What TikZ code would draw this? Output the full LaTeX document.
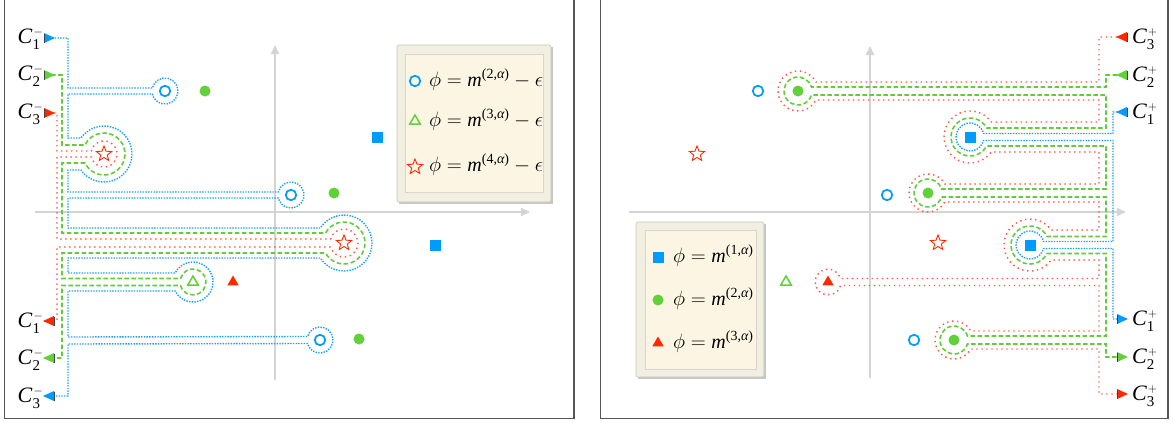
\documentclass[tikz,border=0pt]{standalone}
\usepackage{fontspec}
\newfontfamily\tms{Liberation Serif}
\usetikzlibrary{shapes.geometric,arrows.meta}
\definecolor{mblue}{RGB}{0,155,255}
\definecolor{mgreen}{RGB}{98,208,56}
\definecolor{mred}{RGB}{255,40,0}
\definecolor{cblue}{RGB}{25,160,255}
\definecolor{cgreen}{RGB}{100,204,60}
\definecolor{cred}{RGB}{255,85,60}
\definecolor{axgray}{RGB}{212,212,212}
\definecolor{framegray}{RGB}{85,85,85}
\definecolor{legouter}{RGB}{241,238,226}
\definecolor{leginner}{RGB}{253,245,228}
\definecolor{legborder}{RGB}{200,196,180}
\newcommand\tipR[3]{\fill[#3] ({#1-11},{#2-5}) -- (#1,#2) -- ({#1-11},{#2+5}) -- cycle;
  \draw[black!75, line width=0.9] ({#1-11},{#2-4.5}) -- ({#1-11},{#2+4.5});}
\newcommand\tipL[3]{\fill[#3] ({#1+11},{#2-5}) -- (#1,#2) -- ({#1+11},{#2+5}) -- cycle;
  \draw[black!75, line width=0.9] ({#1+11},{#2-4.5}) -- ({#1+11},{#2+4.5});}
\newcommand\Clab[2]{{\tms\itshape C}\kern0.3pt\rlap{\raisebox{-6.5pt}{\tms\fontsize{15}{15}\selectfont #1}}\kern1pt\raisebox{8pt}{\fontsize{13}{13}\selectfont$#2$}}
\newcommand\phiexp[1]{$\phi = \hbox{\tms\itshape m}^{\hbox{\tms\fontsize{14}{14}\selectfont(#1,{\itshape α})}}$}
\begin{document}
\begin{tikzpicture}[x=1pt,y=-1pt,
  every node/.style={inner sep=0pt, outer sep=0pt},
  lab/.style={font=\fontsize{22}{26}\selectfont},
  legtxt/.style={font=\fontsize{20}{24}\selectfont, anchor=base west},
  axisline/.style={draw=axgray, line width=1.8, -{Triangle[length=9pt,width=8pt]}},
  pathblue/.style={draw=cblue, line width=1.4, dash pattern=on 1.4pt off 1.3pt},
  pathgreen/.style={draw=cgreen, line width=1.6, dash pattern=on 4.5pt off 2.5pt},
  pathred/.style={draw=cred, line width=1.4, dash pattern=on 1.4pt off 3.6pt},
  kL/.style n args={4}{insert path={ -- ({#1-#3*cos(asin(#4/#3))},{#2-#4})
     arc[start angle={180+asin(#4/#3)}, end angle={540-asin(#4/#3)}, radius=#3] }},
  kR/.style n args={4}{insert path={ -- ({#1+#3*cos(asin(#4/#3))},{#2-#4})
     arc[start angle={-asin(#4/#3)}, end angle={-360+asin(#4/#3)}, radius=#3] }},
  mcirc/.style={circle, draw=mblue, line width=1.7, minimum size=10.5},
  mdot/.style={circle, fill=mgreen, minimum size=11},
  msq/.style={rectangle, fill=mblue, minimum size=11},
  mtri/.style={regular polygon, regular polygon sides=3, fill=mred, minimum size=13},
  motri/.style={regular polygon, regular polygon sides=3, draw=mgreen, line width=1.5, minimum size=12},
  mstar/.style={star, star points=5, star point ratio=2.3, draw=mred, line width=0.9, minimum size=16},
  frame/.style={draw=framegray, line width=1.1},
  legbox/.style={draw=legborder, fill=legouter, line width=0.6, rounded corners=2pt, anchor=north west},
  leginbox/.style={draw=legborder!70, fill=leginner, line width=0.5, anchor=north west},
]
\useasboundingbox (0,0) rectangle (1173,423);
\fill[white] (0,0) rectangle (1173,423);

% frames
\draw[frame] (4.5,-3) rectangle (574,418.5);
\draw[frame] (600.5,-3) rectangle (1168,418.5);

% axes
\draw[axisline] (35,212) -- (530,212);
\draw[axisline] (275,380) -- (275,45);
\draw[axisline] (629,212) -- (1126,212);
\draw[axisline] (870,378) -- (870,46);

% ---------------- left panel contours ----------------
\draw[pathblue] (44,38) -- (68,38) -- (68,88) [kL={165}{91}{13}{3}] -- (68,94)
  -- (68,138) [kL={104}{154}{28}{16}] -- (68,170)
  -- (68,192) [kL={291}{195}{13}{3}] -- (68,198)
  -- (68,228) [kL={344}{243}{28}{15}] -- (68,258)
  -- (68,273) [kL={193}{282}{20}{9}] -- (68,291)
  -- (68,337) [kL={320}{340}{13}{3.5}] -- (68,344)
  -- (68,396) -- (44,396);
\draw[pathgreen] (44,75) -- (62,75) -- (62,145) [kL={104}{154}{21}{9}] -- (62,163)
  -- (62,233) [kL={344}{243}{21}{10}] -- (62,253)
  -- (62,278.5) [kL={193}{282}{13}{3.5}] -- (62,285.5)
  -- (62,358) -- (44,358);
\draw[pathred] (44,113) -- (57,113) -- (57,151) [kL={104}{154}{13}{3}] -- (57,157)
  -- (57,239) [kL={344}{243}{14}{4}] -- (57,247)
  -- (57,321) -- (44,321);

% ---------------- right panel contours ----------------
\draw[pathred] (1117,37) -- (1099,37) -- (1099,82) [kR={798}{91}{20}{9}] -- (1099,100)
  -- (1099,122) [kR={970}{137}{26}{15}] -- (1099,152)
  -- (1099,184) [kR={928}{193}{19}{9}] -- (1099,202)
  -- (1099,230) [kR={1030}{245}{26}{15}] -- (1099,260)
  -- (1099,278.5) [kR={828}{282}{13}{3.5}] -- (1099,285.5)
  -- (1099,331) [kR={954}{340}{19}{9}] -- (1099,349)
  -- (1099,394) -- (1117,394);
\draw[pathgreen] (1117,75) -- (1106,75) -- (1106,87) [kR={798}{91}{14}{4}] -- (1106,95)
  -- (1106,128) [kR={970}{137}{19}{9}] -- (1106,146)
  -- (1106,189) [kR={928}{193}{14}{4}] -- (1106,197)
  -- (1106,236.5) [kR={1030}{245}{19}{8.5}] -- (1106,253.5)
  -- (1106,336) [kR={954}{340}{14}{4}] -- (1106,344)
  -- (1106,357) -- (1117,357);
\draw[pathblue] (1117,112) -- (1113,112) -- (1113,133.5) [kR={970}{137}{14}{3.5}] -- (1113,140.5)
  -- (1113,241.5) [kR={1030}{245}{14}{3.5}] -- (1113,248.5)
  -- (1113,319) -- (1117,319);

% arrow heads
\tipR{55}{38}{mblue}
\tipR{55}{75}{mgreen}
\tipR{55}{113}{mred}
\tipL{43}{321}{mred}
\tipL{43}{358}{mgreen}
\tipL{43}{396}{mblue}
\tipL{1116}{37}{mred}
\tipL{1116}{75}{mgreen}
\tipL{1116}{112}{mblue}
\tipR{1128}{319}{mblue}
\tipR{1128}{357}{mgreen}
\tipR{1128}{394}{mred}

% labels
\node[lab, anchor=base east] (cm1t) at (43,43) {\Clab{1}{-}};
\node[lab, anchor=base east] (cm2t) at (43,80) {\Clab{2}{-}};
\node[lab, anchor=base east] (cm3t) at (43,118) {\Clab{3}{-}};
\node[lab, anchor=base east] (cm1b) at (43,327) {\Clab{1}{-}};
\node[lab, anchor=base east] (cm2b) at (43,364) {\Clab{2}{-}};
\node[lab, anchor=base east] (cm3b) at (43,402) {\Clab{3}{-}};
\node[lab, anchor=base west] (cp3t) at (1132,43) {\Clab{3}{+}};
\node[lab, anchor=base west] (cp2t) at (1132,81) {\Clab{2}{+}};
\node[lab, anchor=base west] (cp1t) at (1132,118) {\Clab{1}{+}};
\node[lab, anchor=base west] (cp1b) at (1132,325) {\Clab{1}{+}};
\node[lab, anchor=base west] (cp2b) at (1132,363) {\Clab{2}{+}};
\node[lab, anchor=base west] (cp3b) at (1132,400) {\Clab{3}{+}};

% ---------------- left panel markers ----------------
\node[mcirc] (lc1) at (165,91) {};
\node[mdot] (ld1) at (205,91) {};
\node[msq] (lsq1) at (377,137) {};
\node[mstar] (lst1) at (104,154) {};
\node[mcirc] (lc2) at (291,195) {};
\node[mdot] (ld2) at (334,193) {};
\node[mstar] (lst2) at (344,243) {};
\node[msq] (lsq2) at (435,245) {};
\node[motri] (ltr1) at (193,282) {};
\node[mtri] (ltr2) at (233,282) {};
\node[mcirc] (lc3) at (320,340) {};
\node[mdot] (ld3) at (359,339) {};

% ---------------- right panel markers ----------------
\node[mcirc] (rc1) at (758,91) {};
\node[mdot] (rd1) at (798,91) {};
\node[mstar] (rst1) at (697,154) {};
\node[msq] (rsq1) at (970,137) {};
\node[mcirc] (rc2) at (887,195) {};
\node[mdot] (rd2) at (928,193) {};
\node[mstar] (rst2) at (938,243) {};
\node[msq] (rsq2) at (1030,245) {};
\node[motri] (rtr1) at (786,282) {};
\node[mtri] (rtr2) at (828,282) {};
\node[mcirc] (rc3) at (914,340) {};
\node[mdot] (rd3) at (954,340) {};

% ---------------- legends ----------------
\fill[black, opacity=0.22] (399,47) rectangle (553,204);
\node[legbox, minimum width=154, minimum height=157] (legL) at (397,45) {};
\node[leginbox, minimum width=138, minimum height=138] (legLin) at (405,54) {};
\node[mcirc] (lgc) at (415,81) {};
\node[legtxt] (lgct) at (429,86) {\phiexp{2}${}- \epsilon$};
\node[motri] (lgt) at (415,121) {};
\node[legtxt] (lgtt) at (429,126) {\phiexp{3}${}- \epsilon$};
\node[mstar] (lgs) at (415,167) {};
\node[legtxt] (lgst) at (429,171) {\phiexp{4}${}- \epsilon$};

\fill[black, opacity=0.22] (638,224) rectangle (766,379);
\node[legbox, minimum width=128, minimum height=155] (legR) at (636,222) {};
\node[leginbox, minimum width=111, minimum height=139] (legRin) at (645,230) {};
\node[msq] (rgs) at (658,257) {};
\node[legtxt] (rgst) at (673,262) {\phiexp{1}};
\node[mdot] (rgd) at (658,300) {};
\node[legtxt] (rgdt) at (673,305) {\phiexp{2}};
\node[mtri] (rgt) at (658,343) {};
\node[legtxt] (rgtt) at (673,348) {\phiexp{3}};
\end{tikzpicture}
\end{document}
